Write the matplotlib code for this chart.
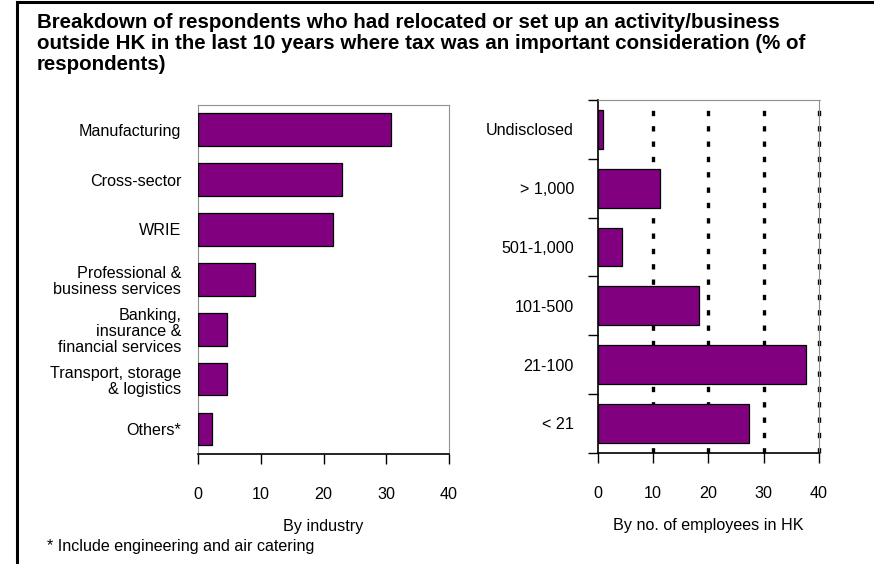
import matplotlib
matplotlib.use("Agg")
import matplotlib.pyplot as plt
from matplotlib.lines import Line2D

# Data (% of respondents)
industries = ["Manufacturing", "Cross-sector", "WRIE", "Professional &\nbusiness services",
              "Banking,\ninsurance &\nfinancial services", "Transport, storage\n& logistics", "Others*"]
industry_pct = [30.7, 23.0, 21.5, 9.1, 4.6, 4.6, 2.3]

employee_bands = ["Undisclosed", "> 1,000", "501-1,000", "101-500", "21-100", "< 21"]
employee_pct = [1.0, 11.3, 4.4, 18.3, 37.6, 27.3]

x_ticks = [0, 10, 20, 30, 40]

BAR = "#800080"
FONT = ["Liberation Sans", "DejaVu Sans"]
plt.rcParams["font.family"] = FONT
FS = 11.6

W, H = 874, 564
fig = plt.figure(figsize=(W / 100, H / 100), dpi=100)

def box(x0, y0, x1, y1):
    return [x0 / W, 1 - y1 / H, (x1 - x0) / W, (y1 - y0) / H]

# Frame lines (left and top)
fig.add_artist(Line2D([17 / W, 17 / W], [0, 1 - 2 / H], color="black", lw=2.2))
fig.add_artist(Line2D([17 / W, 1], [1 - 2 / H, 1 - 2 / H], color="black", lw=2.2))

fig.text(37 / W, 1 - 13 / H,
         "Breakdown of respondents who had relocated or set up an activity/business\n"
         "outside HK in the last 10 years where tax was an important consideration (% of\n"
         "respondents)",
         fontweight="bold", fontsize=14.8, va="top", ha="left", linespacing=1.13)

# Left panel: by industry
ax1 = fig.add_axes(box(198, 104.7, 449, 454))
y1 = range(len(industries))
ax1.barh(y1, industry_pct, height=0.655, color=BAR, edgecolor="black", linewidth=0.9, zorder=3)
ax1.set_ylim(len(industries) - 0.5, -0.5)
ax1.set_xlim(0, 40)
ax1.set_yticks(list(y1))
ax1.set_yticklabels(industries, fontsize=FS, linespacing=1.08, ha="right")
ax1.tick_params(axis="y", length=0, pad=12)
ax1.set_xticks(x_ticks)
ax1.set_xticklabels([str(t) for t in x_ticks], fontsize=FS)
ax1.tick_params(axis="x", direction="out", length=7, width=1, pad=17)
for s in ["left", "top", "right"]:
    ax1.spines[s].set_color("#909090")
    ax1.spines[s].set_linewidth(0.8)
ax1.spines["bottom"].set_linewidth(1.2)
ax1.set_xlabel("By industry", fontsize=FS, labelpad=12)

# Right panel: by number of employees
ax2 = fig.add_axes(box(597.5, 100, 819, 452.7))
y2 = range(len(employee_bands))
for t in x_ticks[1:]:
    ax2.axvline(t, color="black", lw=2.4, linestyle=(0, (1.6, 3.0)), zorder=1, clip_on=False)
ax2.barh(y2, employee_pct, height=0.66, color=BAR, edgecolor="black", linewidth=0.9, zorder=3)
ax2.set_ylim(len(employee_bands) - 0.5, -0.5)
ax2.set_xlim(0, 40)
ax2.set_yticks(list(y2))
ax2.set_yticklabels(employee_bands, fontsize=FS)
ax2.set_yticks([i - 0.5 for i in range(len(employee_bands) + 1)], minor=True)
ax2.tick_params(axis="y", which="major", length=0, pad=17)
ax2.tick_params(axis="y", which="minor", direction="out", length=7, width=1)
ax2.set_xticks(x_ticks)
ax2.set_xticklabels([str(t) for t in x_ticks], fontsize=FS)
ax2.tick_params(axis="x", direction="out", length=7, width=1, pad=17)
for s in ["top", "right"]:
    ax2.spines[s].set_color("#909090")
    ax2.spines[s].set_linewidth(0.8)
ax2.spines["left"].set_linewidth(1.2)
ax2.spines["bottom"].set_linewidth(1.2)
ax2.set_xlabel("By no. of employees in HK", fontsize=FS, labelpad=12)

fig.text(47 / W, 1 - 546 / H, "* Include engineering and air catering",
         fontsize=FS, va="center", ha="left")

fig.savefig("out.png", dpi=100)
